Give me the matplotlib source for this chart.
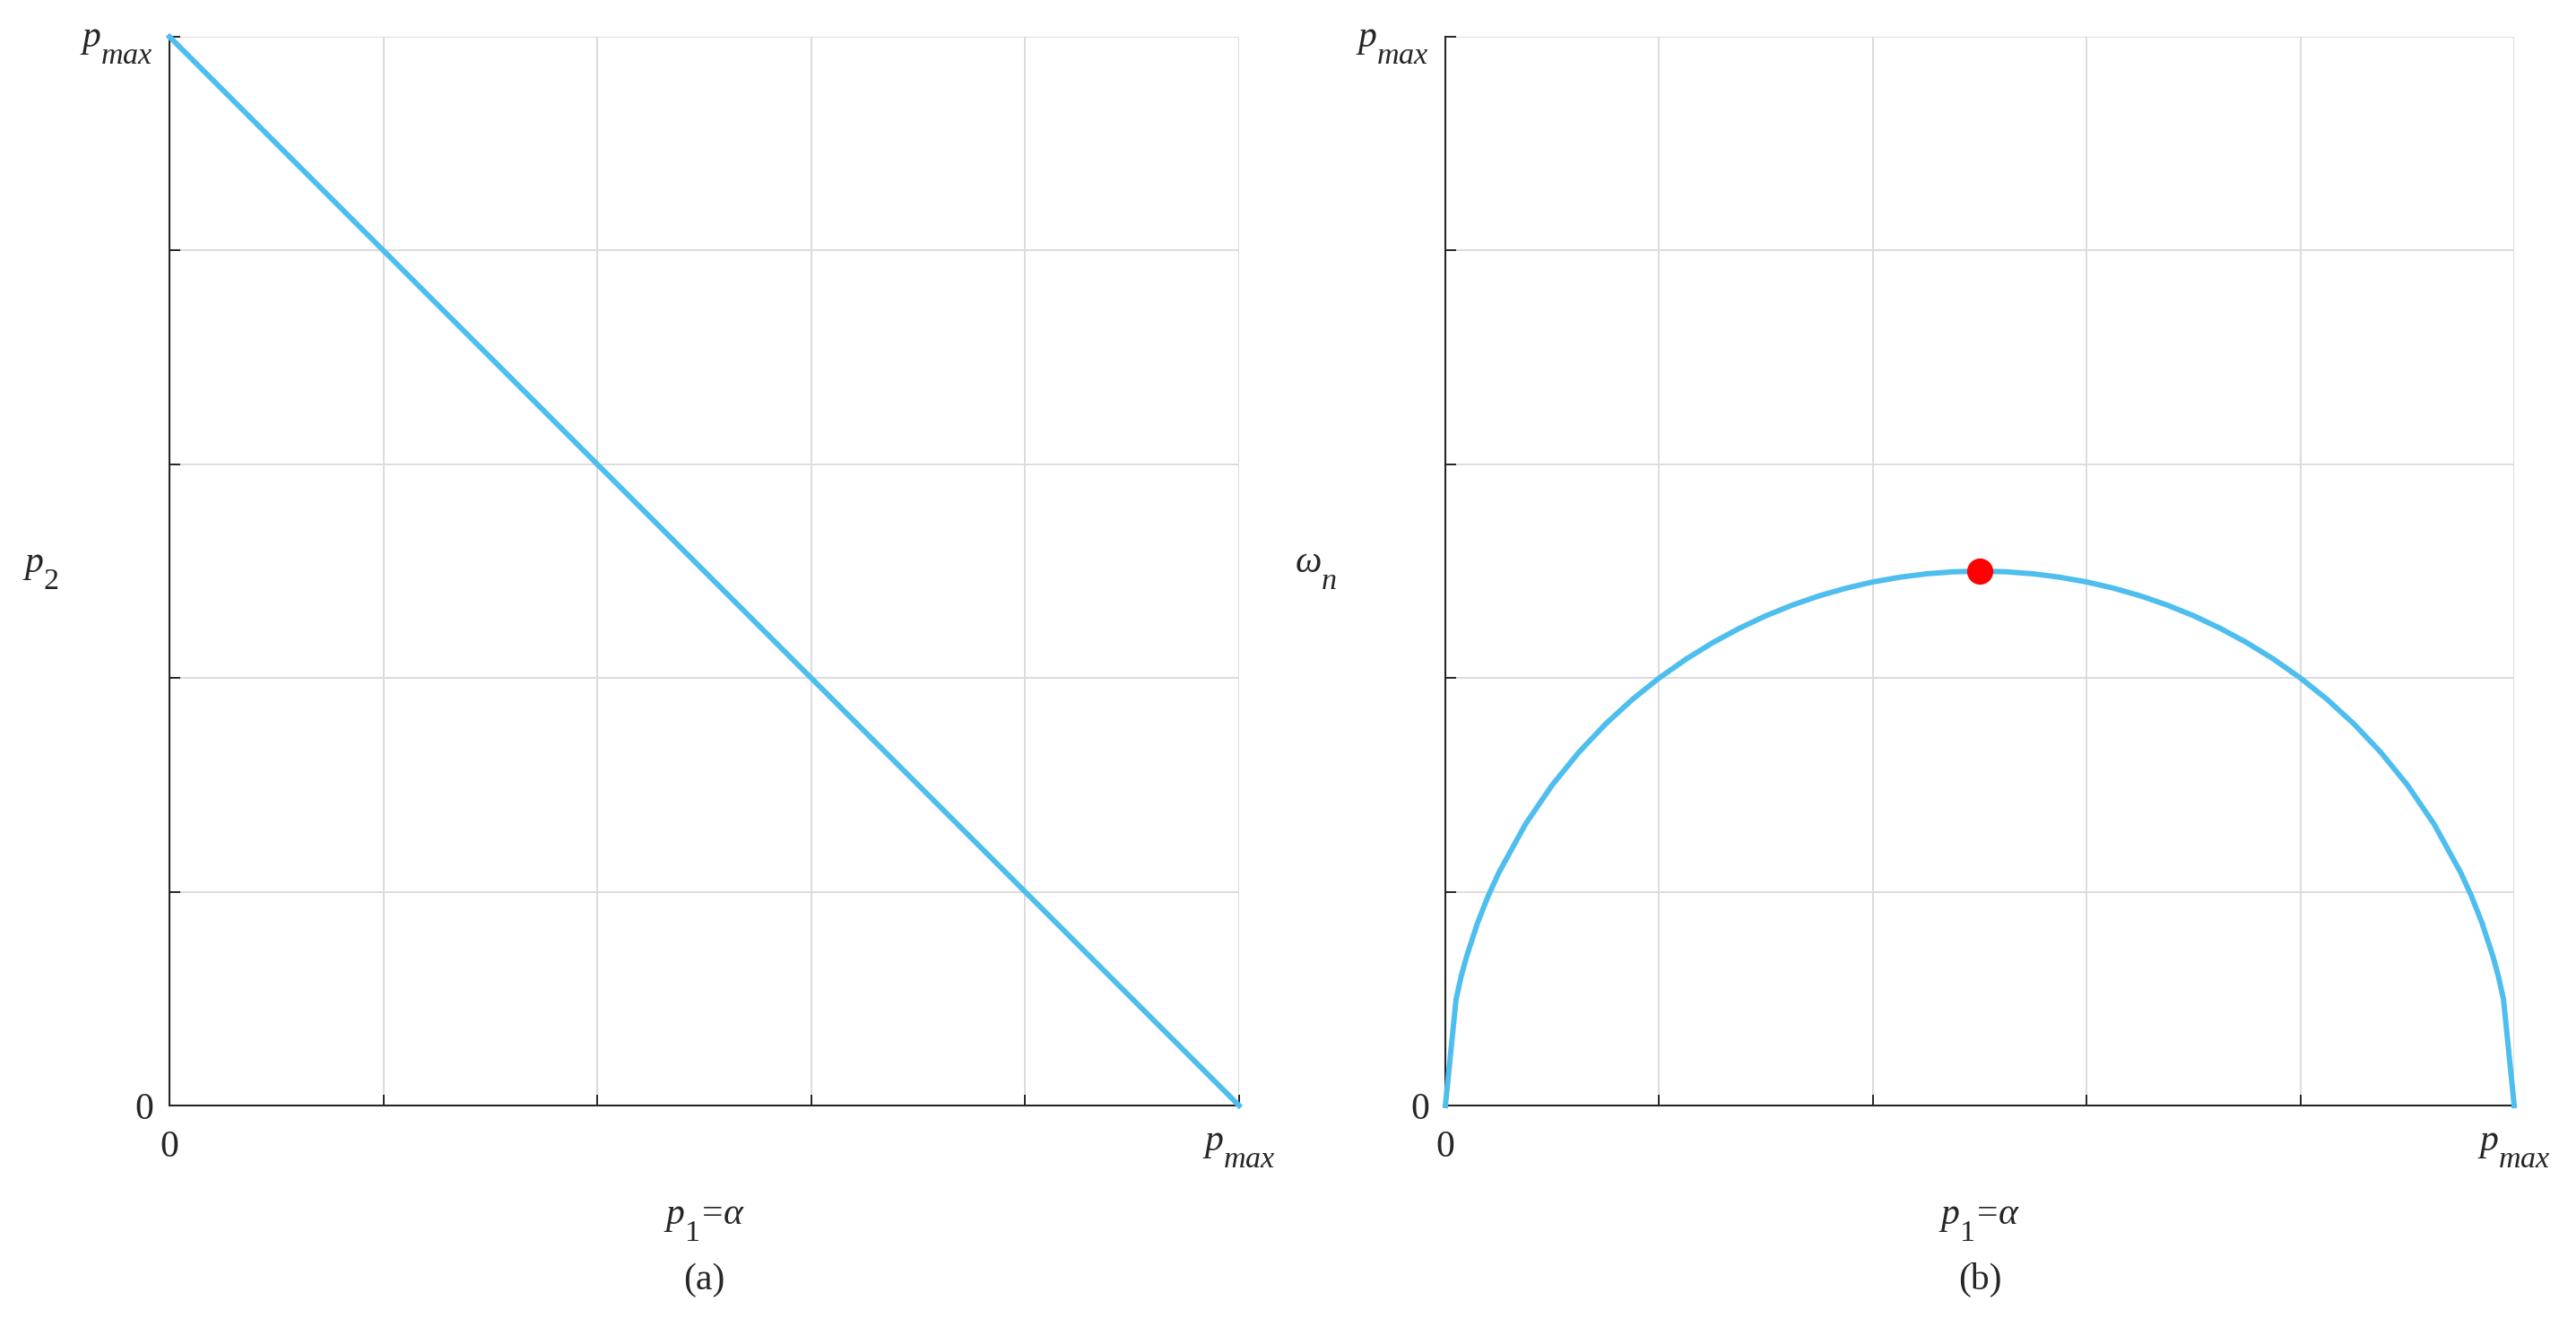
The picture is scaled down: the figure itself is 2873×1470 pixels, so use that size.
import numpy as np
import matplotlib
matplotlib.use("Agg")
import matplotlib.pyplot as plt
import matplotlib._mathtext as mt

# ================= DATA ================= #
# pmax normalised to 1
line_p1 = [0.0, 1.0]
line_p2 = [1.0, 0.0]

arc_p1 = [0.0, 0.01, 0.015, 0.02, 0.03, 0.04, 0.05, 0.075, 0.1, 0.125, 0.15, 0.175, 0.2, 0.225,
          0.25, 0.275, 0.3, 0.325, 0.35, 0.375, 0.4, 0.425, 0.45, 0.475, 0.5,
          0.525, 0.55, 0.575, 0.6, 0.625, 0.65, 0.675, 0.7, 0.725, 0.75, 0.775,
          0.8, 0.825, 0.85, 0.875, 0.9, 0.925, 0.95, 0.96, 0.97, 0.98, 0.985, 0.99, 1.0]
arc_wn = [0.0, 0.0995, 0.1219, 0.1400, 0.1706, 0.1960, 0.2179, 0.2634, 0.3000, 0.3307, 0.3571, 0.3800, 0.4000, 0.4176,
          0.4330, 0.4465, 0.4583, 0.4684, 0.4770, 0.4841, 0.4899, 0.4943, 0.4975, 0.4994, 0.5000,
          0.4994, 0.4975, 0.4943, 0.4899, 0.4841, 0.4770, 0.4684, 0.4583, 0.4465, 0.4330, 0.4176,
          0.4000, 0.3800, 0.3571, 0.3307, 0.3000, 0.2634, 0.2179, 0.1960, 0.1706, 0.1400, 0.1219, 0.0995, 0.0]

peak_p1 = [0.5]
peak_wn = [0.5]

ticks = [0, 0.2, 0.4, 0.6, 0.8, 1.0]
tick_labels = ["0", "", "", "", "", r"$p_{max}$"]

# ================= STYLE ================= #
plt.rcParams["font.family"] = ["Liberation Serif", "DejaVu Serif"]
plt.rcParams["mathtext.fontset"] = "custom"
plt.rcParams["mathtext.rm"] = "Liberation Serif"
plt.rcParams["mathtext.it"] = "Liberation Serif:italic"
# bigger, lower subscripts (closer to the tex look of the original)
mt.SHRINK_FACTOR = 0.82
mt.FontConstantsBase.subdrop = 1.5
mt.FontConstantsBase.sub1 = 1.0

BLUE = "#4DBEEE"
AX_COLOR = "#262626"
FS = 30

fig = plt.figure(figsize=(28.73, 14.70), dpi=100)
ax_a = fig.add_axes([0.0658, 0.1612, 0.4152, 0.8109])
ax_b = fig.add_axes([0.5611, 0.1612, 0.4149, 0.8109])


def style_axes(ax, ylabel, caption):
    ax.set_xlim(0, 1)
    ax.set_ylim(0, 1)
    ax.set_xticks(ticks)
    ax.set_yticks(ticks)
    ax.set_xticklabels(tick_labels, fontsize=FS)
    ax.set_yticklabels(tick_labels, fontsize=FS)
    ax.tick_params(direction="in", length=8.6, width=1.4, color=AX_COLOR, labelcolor=AX_COLOR)
    ax.tick_params(axis="x", pad=20)
    ax.tick_params(axis="y", pad=13)
    for s in ["top", "right"]:
        ax.spines[s].set_visible(False)
    for s in ["left", "bottom"]:
        ax.spines[s].set_color(AX_COLOR)
        ax.spines[s].set_linewidth(1.5)
        ax.spines[s].set_zorder(5)
    ax.grid(True, color="#dcdcdc", linewidth=1.4)
    ax.set_axisbelow(True)

    ax.set_xlabel(r"$p_1\!=\!\alpha$", fontsize=FS, color=AX_COLOR)
    ax.xaxis.set_label_coords(0.5, -0.11)
    ax.xaxis.label.set_va("center")
    ax.set_ylabel(ylabel, fontsize=FS, rotation=0, color=AX_COLOR)
    ax.yaxis.set_label_coords(-0.121, 0.5)
    ax.yaxis.label.set_va("center")
    ax.yaxis.label.set_ha("center")
    ax.text(0.5, -0.163, caption, transform=ax.transAxes, ha="center", va="center",
            fontsize=30, color=AX_COLOR)


style_axes(ax_a, r"$p_2$", "(a)")
ax_a.plot(line_p1, line_p2, color=BLUE, linewidth=4.3, clip_on=False, zorder=6)

style_axes(ax_b, r"$\omega_n$", "(b)")
ax_b.plot(arc_p1, arc_wn, color=BLUE, linewidth=4.3, clip_on=False, zorder=6)
ax_b.plot(peak_p1, peak_wn, "o", color="red", markersize=20, zorder=7)

fig.savefig("out.png", dpi=100)
